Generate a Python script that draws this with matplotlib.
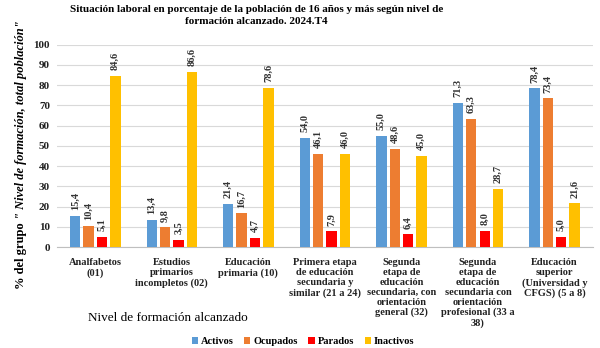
import numpy as np
import matplotlib
matplotlib.use("Agg")
import matplotlib.pyplot as plt

plt.rcParams['font.family'] = ['Liberation Serif', 'DejaVu Serif']

categories = [
    "Analfabetos\n(01)",
    "Estudios\nprimarios\nincompletos (02)",
    "Educación\nprimaria (10)",
    "Primera etapa\nde educación\nsecundaria y\nsimilar (21 a 24)",
    "Segunda\netapa de\neducación\nsecundaria, con\norientación\ngeneral (32)",
    "Segunda\netapa de\neducación\nsecundaria con\norientación\nprofesional (33 a\n38)",
    "Educación\nsuperior\n(Universidad y\nCFGS) (5 a 8)",
]
activos = [15.4, 13.4, 21.4, 54.0, 55.0, 71.3, 78.4]
ocupados = [10.4, 9.8, 16.7, 46.1, 48.6, 63.3, 73.4]
parados = [5.1, 3.5, 4.7, 7.9, 6.4, 8.0, 5.0]
inactivos = [84.6, 86.6, 78.6, 46.0, 45.0, 28.7, 21.6]
series_names = ["Activos", "Ocupados", "Parados", "Inactivos"]
colors = ["#5B9BD5", "#ED7D31", "#FF0000", "#FFC000"]
yticks = list(range(0, 101, 10))

fig = plt.figure(figsize=(6.0, 3.48), dpi=100)
ax = fig.add_axes([0.095, 0.290, 0.893, 0.582])

x = np.arange(len(categories))
bw = 0.135
step = 0.175
offsets = (np.arange(4) - 1.5) * step
for vals, name, col, off in zip([activos, ocupados, parados, inactivos],
                                series_names, colors, offsets):
    bars = ax.bar(x + off, vals, width=bw, color=col, label=name, zorder=3)
    for b, v in zip(bars, vals):
        ax.annotate(f"{v:.1f}".replace(".", ","),
                    (b.get_x() + b.get_width() / 2, b.get_height()),
                    xytext=(0, 4), textcoords="offset points",
                    rotation=90, ha="center", va="bottom",
                    fontsize=7.5, fontweight="bold", color="#333333")

ax.set_xlim(-0.5, len(categories) - 0.5)
ax.set_ylim(0, 100)
ax.set_yticks(yticks)
ax.set_yticklabels([str(t) for t in yticks], fontsize=8, fontweight="bold")
ax.set_xticks(x)
ax.set_xticklabels(categories, fontsize=7.5, fontweight="bold", linespacing=1.13)
ax.tick_params(axis="y", length=0, pad=5, colors="#222222")
ax.tick_params(axis="x", length=0, pad=8, colors="#222222")
ax.grid(axis="y", color="#D9D9D9", linewidth=0.8, zorder=0)
for s in ["top", "right", "left"]:
    ax.spines[s].set_visible(False)
ax.spines["bottom"].set_color("#BFBFBF")

fig.text(0.428, 0.985,
         "Situación laboral en porcentaje de la población de 16 años y más según nivel de\nformación alcanzado. 2024.T4",
         ha="center", va="top", fontsize=8, fontweight="bold", linespacing=1.45)

fig.text(0.28, 0.085, "Nivel de formación alcanzado", ha="center", va="center",
         fontsize=9.5)

# y-axis label: upright part followed by italic part
fig.canvas.draw()
t1 = fig.text(0.035, 0.17, '% del grupo ', rotation=90, ha="center", va="bottom",
              fontsize=9, fontweight="bold")
fig.canvas.draw()
bb = t1.get_window_extent(fig.canvas.get_renderer())
y_top = bb.y1 / fig.bbox.height
fig.text(0.035, y_top, '" Nivel de formación, total población"', rotation=90,
         ha="center", va="bottom", fontsize=9, fontweight="bold", style="italic")

fig.legend(loc="center", bbox_to_anchor=(0.505, 0.018), ncol=4, frameon=False,
           handlelength=0.6, handleheight=0.6, handletextpad=0.3,
           columnspacing=1.0, prop={"weight": "bold", "size": 7.5})

fig.savefig("out.png", dpi=100)
